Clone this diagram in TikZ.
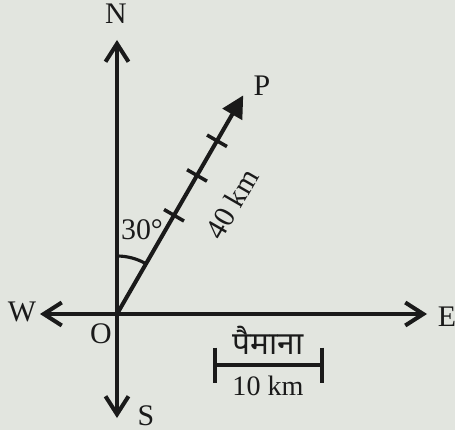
\documentclass[tikz,border=0pt]{standalone}
\usepackage{fontspec}
\setmainfont{Liberation Serif}
\newfontfamily\hindifont[Script=Devanagari]{Noto Sans}
\usetikzlibrary{arrows.meta,positioning,calc}
\definecolor{paper}{RGB}{226,229,223}
\definecolor{ink}{RGB}{26,26,26}

\begin{document}
\begin{tikzpicture}[>=Stealth,
  axis/.style={ink,line width=2.3pt,-{Straight Barb[length=3.6mm,width=4.6mm]}},
  ray/.style={ink,line width=2.3pt,-{Triangle[length=4.4mm,width=4.4mm]}},
  lbl/.style={ink,font=\fontsize{17}{20}\selectfont,inner sep=0pt},
  small/.style={ink,font=\fontsize{16}{18}\selectfont,inner sep=0pt}]
  \fill[paper] (-2.34,-2.32) rectangle (6.76,6.28);
  \useasboundingbox (-2.34,-2.32) rectangle (6.76,6.28);
  % compass axes
  \coordinate (O) at (0,0);
  \coordinate (n) at (0,5.48); \coordinate (s) at (0,-2.08);
  \coordinate (w) at (-1.54,0); \coordinate (e) at (6.2,0);
  \coordinate (p) at (60:5.05);
  \draw[axis] (O) -- (n); \draw[axis] (O) -- (s);
  \draw[axis] (O) -- (w); \draw[axis] (O) -- (e);
  \draw[ray] (O) -- (p);
  \foreach \d in {2.28,3.2,4.0}
    \draw[ink,line width=2pt] ($(O)+(60:\d)$) ++(150:0.23) -- ++(-30:0.46);
  \draw[ink,line width=1.8pt] (0,1.16) arc[start angle=90,end angle=60,radius=1.16];
  \node[lbl] (lN) at (-0.02,6.0) {N};
  \node[lbl] (lS) at (0.58,-2.03) {S};
  \node[lbl] (lW) at (-1.9,0.04) {W};
  \node[lbl] (lE) at (6.6,-0.06) {E};
  \node[lbl] (lO) at (-0.32,-0.4) {O};
  \node[lbl] (lP) at (2.9,4.56) {P};
  \node[lbl] (ang) at (0.5,1.68) {30\textdegree};
  \node[lbl,rotate=60] (dist) at (2.3,2.2) {40 km};
  % scale bar
  \coordinate (sl) at (1.96,-1.02); \coordinate (sr) at (4.1,-1.02);
  \draw[ink,line width=1.8pt] (sl) -- (sr);
  \draw[ink,line width=1.8pt] ($(sl)+(0,0.35)$) -- ($(sl)+(0,-0.35)$);
  \draw[ink,line width=1.8pt] ($(sr)+(0,0.35)$) -- ($(sr)+(0,-0.35)$);
  \node[small,font=\hindifont\fontsize{18}{20}\selectfont] (scl) at (3.02,-0.52) {पैमाना};
  \node[small] (len) at (3.02,-1.44) {10 km};
\end{tikzpicture}
\end{document}
